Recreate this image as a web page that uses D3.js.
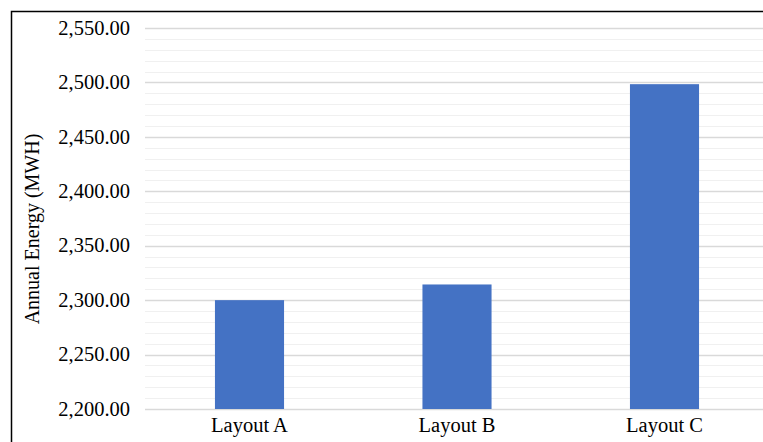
<!DOCTYPE html>
<html>
<head>
<meta charset="utf-8">
<script src="https://cdn.jsdelivr.net/npm/d3@7"></script>
<style>
  body { margin: 0; background: #fff; }
  text { font-family: "Liberation Serif", "Times New Roman", serif; fill: #000; }
</style>
</head>
<body>
<div id="chart"></div>
<script>
// data
var layouts = ["Layout A", "Layout B", "Layout C"];
var energy = [2300.0, 2314.4, 2498.4];
var majorTicks = [2200, 2250, 2300, 2350, 2400, 2450, 2500, 2550];
var yMin = 2200, yMax = 2550, minorStep = 10;

function drawChart() {
    var w = 763;
    var h = 442;

    var svg = d3.select("#chart")
                .append("svg")
                .attr("width", w)
                .attr("height", h);

    // outer chart border (cropped on right and bottom)
    svg.append("rect")
        .attr("x", 11.5)
        .attr("y", 11.5)
        .attr("width", 800)
        .attr("height", 500)
        .attr("fill", "#fff")
        .attr("stroke", "#000")
        .attr("stroke-width", 1.5);

    var xScale = d3.scaleBand()
                    .domain(layouts)
                    .range([145.75, 768.25])
                    .paddingInner(0.667)
                    .paddingOuter(0.3335);

    var yScale = d3.scaleLinear()
                    .domain([yMin, yMax])
                    .range([409, 28]);

    // minor gridlines
    var minorTicks = d3.range(yMin, yMax + 1, minorStep).filter(function(d) {
        return majorTicks.indexOf(d) < 0;
    });
    svg.append("g")
        .selectAll("line")
        .data(minorTicks)
        .enter()
        .append("line")
        .attr("x1", 145)
        .attr("x2", w)
        .attr("y1", function(d) { return Math.round(yScale(d)) + 0.5; })
        .attr("y2", function(d) { return Math.round(yScale(d)) + 0.5; })
        .attr("stroke", "#f0f0f0")
        .attr("stroke-width", 1.2);

    // major gridlines
    svg.append("g")
        .selectAll("line")
        .data(majorTicks)
        .enter()
        .append("line")
        .attr("x1", 145)
        .attr("x2", w)
        .attr("y1", function(d) { return Math.round(yScale(d)) + 0.5; })
        .attr("y2", function(d) { return Math.round(yScale(d)) + 0.5; })
        .attr("stroke", "#d9d9d9")
        .attr("stroke-width", 1.3);

    // bars
    svg.append("g")
        .selectAll("rect")
        .data(energy)
        .enter()
        .append("rect")
        .attr("x", function(d, i) { return xScale(layouts[i]); })
        .attr("width", xScale.bandwidth())
        .attr("y", function(d) { return yScale(d); })
        .attr("height", function(d) { return yScale(yMin) - yScale(d); })
        .attr("fill", "#4472c4");

    // y tick labels
    var fmt = d3.format(",.2f");
    svg.append("g")
        .selectAll("text")
        .data(majorTicks)
        .enter()
        .append("text")
        .attr("x", 130)
        .attr("y", function(d) { return yScale(d); })
        .attr("dy", "0.33em")
        .attr("text-anchor", "end")
        .attr("font-size", "20.5px")
        .text(function(d) { return fmt(d); });

    // x labels
    svg.append("g")
        .selectAll("text")
        .data(layouts)
        .enter()
        .append("text")
        .attr("x", function(d) { return xScale(d) + xScale.bandwidth() / 2; })
        .attr("y", 432)
        .attr("text-anchor", "middle")
        .attr("font-size", "20.5px")
        .text(function(d) { return d; });

    // y axis title
    svg.append("text")
        .attr("transform", "translate(39,229)rotate(-90)")
        .attr("text-anchor", "middle")
        .attr("font-size", "20px")
        .text("Annual Energy (MWH)");
}

drawChart();
</script>
</body>
</html>
